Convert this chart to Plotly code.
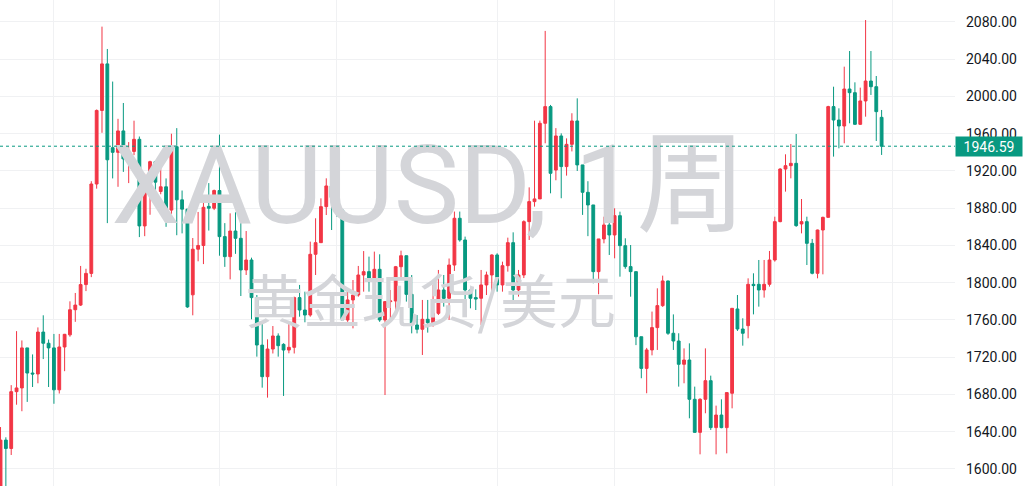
import plotly.graph_objects as go
import pandas as pd

# Weekly XAUUSD candles, starting week of 2020-03-23
start_date = "2020-03-23"
open_ = [1498, 1631, 1622, 1683, 1687, 1730, 1703, 1702, 1747, 1735,
         1730, 1685, 1731, 1744, 1771, 1776, 1798, 1810, 1906, 1985,
         2035, 1945, 1940, 1963, 1933, 1941, 1954, 1861, 1900, 1930,
         1898, 1903, 1878, 1946, 1889, 1879, 1787, 1836, 1840, 1882,
         1880, 1899, 1849.5, 1828, 1855.5, 1847.7, 1813.7, 1824.4, 1784, 1733,
         1699.1, 1728.8, 1742.8, 1733.8, 1727.7, 1730.6, 1784, 1770.7, 1765.3, 1830.5,
         1843, 1881.7, 1903.9, 1891.4, 1878.1, 1760, 1781.5, 1786.8, 1808.3, 1811.9,
         1802.2, 1814.4, 1760, 1779.7, 1780.4, 1817.2, 1829, 1787.5, 1754.6, 1750,
         1760.7, 1757.1, 1767.1, 1792.2, 1783.3, 1819, 1869.2, 1845.9, 1792.2, 1784,
         1783.3, 1797.6, 1808.3, 1829.8, 1797.6, 1818.3, 1843, 1792.2, 1808.3, 1865.6,
         1887.1, 1890, 1971.2, 1989.1, 1921, 1957.6, 1924.7, 1948.6, 1973.7, 1926.5,
         1897.1, 1883.5, 1811.9, 1847, 1862, 1851.3, 1872, 1839.8, 1817.3, 1811.9,
         1742, 1708, 1727.8, 1751.8, 1775.4, 1801.9, 1745.7, 1737.4, 1712.4, 1717,
         1674.8, 1639.3, 1674.8, 1694.8, 1644.4, 1657.9, 1644.4, 1681.3, 1771.8, 1750.3,
         1753.9, 1798.3, 1798.3, 1792.2, 1798.3, 1824.4, 1865.6, 1922.1, 1925.7, 1928.2,
         1863.1, 1865.6, 1842.3, 1810.1, 1856.6, 1870.2, 1989.1, 1974.7, 1968.3, 2008,
         2004.1, 1970.1, 1995.2, 2016.6, 2010.5, 1977.6]
high = [1645, 1634, 1690, 1748, 1738, 1730, 1723, 1752, 1765, 1739,
        1745, 1745, 1745, 1780, 1789, 1818, 1815, 1909, 1986, 2075,
        2051, 2016, 1976, 1993, 1951, 1974, 1957, 1917, 1931, 1931,
        1931, 1912, 1960, 1966, 1899, 1879, 1848, 1876, 1892, 1907,
        1900, 1959, 1864, 1874.5, 1875.6, 1871.7, 1855.5, 1826.9, 1786.8, 1758.9,
        1739.2, 1753.5, 1745.6, 1735, 1758.2, 1785, 1797.6, 1790.4, 1844.1, 1869.2,
        1890.6, 1912.1, 1915.7, 1901.4, 1879, 1794, 1802.9, 1818, 1834, 1828,
        1833.4, 1830.5, 1780, 1792.2, 1818, 1834.4, 1829, 1808.3, 1765.3, 1781.5,
        1781.5, 1797.6, 1813.7, 1808.3, 1826, 1876.4, 1876.4, 1849.5, 1792.2, 1792.9,
        1813.7, 1811.9, 1830.5, 1831.6, 1822.6, 1848.4, 1854.1, 1813.7, 1867, 1902.4,
        1974, 1974.1, 2070.4, 1990.9, 1966, 1960.4, 1955, 1982, 1998, 1926.5,
        1909, 1883.5, 1847, 1870.9, 1872.8, 1879.9, 1876.3, 1847.7, 1840.5, 1811.9,
        1742, 1730, 1769, 1794, 1807.6, 1802.2, 1766, 1745.7, 1729.5, 1734.9,
        1688.4, 1676, 1729.5, 1700.2, 1668, 1674.8, 1682, 1772.5, 1786.8, 1761.8,
        1804.7, 1810.1, 1824.4, 1824.4, 1834.1, 1870.9, 1923, 1937.9, 1949, 1959.7,
        1889.9, 1870.9, 1847, 1857, 1870.9, 1990, 2010.5, 1987.3, 2032, 2048.8,
        2015.2, 2009.5, 2082.1, 2048.8, 2022, 1985.5]
low = [1482, 1567, 1615, 1669, 1662, 1672, 1688, 1692, 1718, 1688,
       1670, 1681, 1705, 1742, 1758, 1775, 1791, 1806, 1901, 1961,
       1864, 1912, 1903, 1919, 1907, 1937, 1849, 1850, 1873, 1883,
       1895, 1860, 1874, 1851, 1853, 1773, 1765, 1823, 1820, 1856,
       1878, 1829, 1817, 1803.6, 1831, 1785.7, 1808.3, 1760.7, 1720.6, 1687.3,
       1676.6, 1724, 1720.6, 1678.4, 1724.2, 1724, 1763.5, 1757.5, 1763.5, 1808.3,
       1843, 1872.7, 1856.6, 1870.9, 1760, 1758, 1751, 1785, 1790.4, 1790.4,
       1794, 1758, 1679.4, 1760, 1770.7, 1802.9, 1779.7, 1745.6, 1745.6, 1722.4,
       1746.4, 1752.8, 1765.3, 1774.3, 1760, 1812.6, 1844.1, 1779, 1772.5, 1770.7,
       1754.6, 1786.8, 1790.4, 1790.4, 1790.4, 1811.9, 1780.4, 1785.1, 1805, 1845.9,
       1881.7, 1890, 1949.7, 1896, 1910, 1890.7, 1915, 1941, 1920, 1872.8,
       1850, 1799.4, 1787.6, 1842.3, 1829.8, 1826.2, 1806.5, 1815, 1785, 1733,
       1697.4, 1681.3, 1722, 1727.8, 1774, 1744, 1727.8, 1688.4, 1692, 1654.4,
       1639, 1615.7, 1659.8, 1641.9, 1615.7, 1643.7, 1616.8, 1665.1, 1748.2, 1732.4,
       1740.3, 1766, 1774.3, 1784, 1795.8, 1822.6, 1864.9, 1897.8, 1912.1, 1860,
       1853, 1819, 1809, 1804.7, 1809, 1870, 1935.4, 1944.3, 1949.7, 1971.2,
       1969.4, 1969.4, 1978.3, 2001.6, 1952.2, 1937.2]
close = [1631, 1622, 1683, 1687, 1730, 1703, 1702, 1747, 1735, 1730,
         1685, 1731, 1744.6, 1771, 1776, 1798, 1810, 1906, 1985, 2035,
         1932, 1940, 1963, 1933, 1941, 1954, 1861, 1900, 1930, 1908,
         1903, 1878, 1946, 1889, 1879, 1774, 1836, 1840, 1881, 1880,
         1899, 1849.5, 1828, 1855.5, 1847.7, 1813.7, 1824.4, 1784, 1733.1, 1699.1,
         1728.8, 1742.8, 1732.4, 1727.7, 1730.6, 1784, 1770.7, 1765.3, 1830.5, 1843,
         1881.7, 1903.9, 1891.4, 1878.1, 1760, 1781.5, 1786.8, 1808.3, 1811.9, 1802.2,
         1814.4, 1760, 1779.7, 1780.4, 1817.2, 1829, 1787.5, 1754.6, 1750, 1760.7,
         1757.1, 1767.1, 1792.2, 1783.2, 1819, 1869.2, 1845.9, 1792.2, 1783.3, 1782.5,
         1797.6, 1808.3, 1829.8, 1797.6, 1818.3, 1843, 1792.2, 1808.3, 1865.6, 1887.1,
         1890, 1971.2, 1989.1, 1917.5, 1957.6, 1924.7, 1948.6, 1973.7, 1926.5, 1897.1,
         1883.5, 1811.9, 1847, 1862, 1851.3, 1872, 1839.8, 1817.3, 1811.9, 1742,
         1708, 1727.8, 1751.8, 1775.4, 1801.9, 1745.7, 1737.4, 1712.4, 1717, 1674.8,
         1639.3, 1674.8, 1694.8, 1644.4, 1657.9, 1644.4, 1682, 1772.5, 1750.3, 1745.7,
         1798.3, 1796.9, 1792.2, 1798.3, 1824.4, 1865.6, 1922.1, 1925.7, 1928.2, 1861.3,
         1865.6, 1842.3, 1810.1, 1856.6, 1870.2, 1989.1, 1974.7, 1968.3, 2008, 2004.1,
         1970.1, 1995.2, 2016.6, 2010.5, 1983.7, 1946.59]

last_price = 1946.59
price_ticks = [1600, 1640, 1680, 1720, 1760, 1800, 1840, 1880, 1920, 1960, 2000, 2040, 2080]
time_grid = ["2020-06-01", "2021-01-04", "2021-06-07", "2022-01-03",
             "2022-06-06", "2023-01-02", "2023-06-05"]
watermark_title = "XAUUSD, 1周"
watermark_sub = "黄金现货/美元"

UP = "#F23645"
DOWN = "#089981"
GRID = "#f0f1f3"
WM = "#d4d5d9"

dates = pd.date_range(start_date, periods=len(close), freq="7D")

# visible window (layout)
x0 = pd.Timestamp(start_date) - pd.Timedelta(days=0.7)
x1 = pd.Timestamp(start_date) + pd.Timedelta(days=1251.2)
y0, y1 = 1581.7, 2103.6

def xfrac(f):
    return x0 + (x1 - x0) * f

def yfrac(f):
    return y0 + (y1 - y0) * f

fig = go.Figure()

# watermark beneath candles
fig.add_trace(go.Scatter(
    x=[xfrac(0.449)], y=[yfrac(0.598)], mode="text", text=[watermark_title],
    textfont=dict(family="Roboto, 'Noto Sans CJK SC'", size=110, color=WM),
    hoverinfo="skip", showlegend=False))
fig.add_trace(go.Scatter(
    x=[xfrac(0.451)], y=[yfrac(0.366)], mode="text", text=[watermark_sub],
    textfont=dict(family="'Noto Sans CJK SC'", size=58, color=WM),
    hoverinfo="skip", showlegend=False))

fig.add_trace(go.Candlestick(
    x=dates, open=open_, high=high, low=low, close=close,
    increasing=dict(line=dict(color=UP, width=1), fillcolor=UP),
    decreasing=dict(line=dict(color=DOWN, width=1), fillcolor=DOWN),
    whiskerwidth=0, showlegend=False))

fig.add_shape(type="line", xref="paper", x0=0, x1=1, yref="y",
              y0=last_price, y1=last_price,
              line=dict(color=DOWN, width=1, dash="dot"))

fig.add_annotation(xref="paper", x=1, xanchor="left", yref="y", y=last_price,
                   yanchor="middle", text=f"{last_price:.2f}", showarrow=False,
                   bgcolor=DOWN, borderpad=3, width=60, height=13,
                   font=dict(family="Roboto", size=14, color="white"))

fig.update_layout(
    width=1024, height=486,
    margin=dict(l=0, r=69, t=0, b=0),
    paper_bgcolor="white", plot_bgcolor="white",
    boxgap=0.25,
    xaxis=dict(type="date", range=[x0, x1], rangeslider=dict(visible=False),
               tickvals=time_grid, showticklabels=False, showgrid=True,
               gridcolor=GRID, gridwidth=1, zeroline=False, showline=False,
               ticks=""),
    yaxis=dict(side="right", range=[y0, y1], tickvals=price_ticks,
               ticktext=[f"{v:.2f}" for v in price_ticks],
               showgrid=True, gridcolor=GRID, gridwidth=1, zeroline=False,
               showline=False, ticks="", ticklabelstandoff=10,
               tickfont=dict(family="Roboto", size=14, color="#131722")),
    font=dict(family="Roboto"),
)

fig.write_html("out.html", config={"displayModeBar": False},
               post_script="document.body.style.margin='0';document.body.style.overflow='hidden';")
